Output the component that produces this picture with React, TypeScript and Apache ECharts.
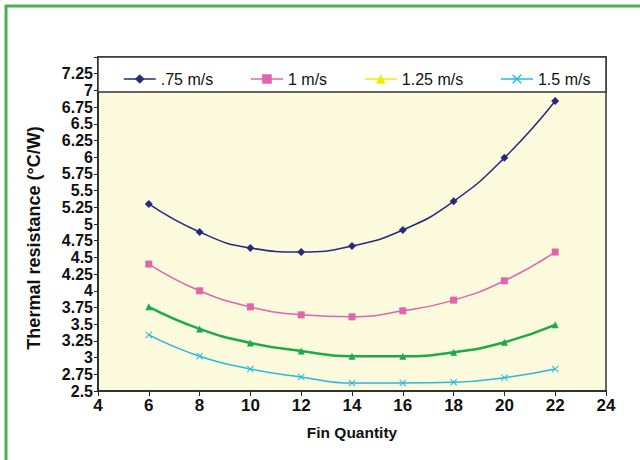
import React, { useEffect, useRef } from "react";
import * as echarts from "echarts";

const finQuantity = [6, 8, 10, 12, 14, 16, 18, 20, 22];
const seriesNames = [".75 m/s", "1 m/s", "1.25 m/s", "1.5 m/s"];
const v075 = [5.3, 4.88, 4.64, 4.58, 4.67, 4.91, 5.34, 5.99, 6.84];
const v100 = [4.4, 4.0, 3.76, 3.64, 3.61, 3.7, 3.86, 4.15, 4.58];
const v125 = [3.76, 3.43, 3.22, 3.1, 3.02, 3.02, 3.08, 3.23, 3.49];
const v150 = [3.34, 3.02, 2.83, 2.71, 2.62, 2.62, 2.63, 2.7, 2.83];
const yTickLabels = ["2.5", "2.75", "3", "3.25", "3.5", "3.75", "4", "4.25", "4.5", "4.75", "5", "5.25", "5.5", "5.75", "6", "6.25", "6.5", "6.75", "7", "7.25"];

const COLORS = ["#262A7E", "#E065AC", "#1DA84A", "#27B8DC"];
const LEGEND_COLORS = ["#262A7E", "#E065AC", "#F2EC00", "#27B8DC"];
const CROSS = "path://M0,1L1,0L5,4L9,0L10,1L6,5L10,9L9,10L5,6L1,10L0,9L4,5Z";
const SYMBOLS = ["diamond", "rect", "triangle", CROSS];
const WIDTHS = [1.5, 1.5, 2.5, 1.5];

export default function App() {
  const ref = useRef<HTMLDivElement>(null);
  useEffect(() => {
    if (!ref.current) return;
    const chart = echarts.init(ref.current, null, { renderer: "svg" });
    const values = [v075, v100, v125, v150];
    const font = "'Liberation Sans', Arial, sans-serif";
    chart.setOption({
      animation: false,
      backgroundColor: "#ffffff",
      textStyle: { fontFamily: font },
      grid: {
        left: 98,
        right: 34,
        top: 57,
        bottom: 69,
        show: true,
        backgroundColor: "#FCFADC",
        borderColor: "#333333",
        borderWidth: 1.5,
      },
      legend: {
        data: seriesNames.map((n, i) => ({
          name: n,
          itemStyle: { color: LEGEND_COLORS[i] },
          lineStyle: { color: LEGEND_COLORS[i], width: 1.5 },
        })),
        left: 118,
        top: 66,
        itemWidth: 32,
        itemHeight: 12,
        itemGap: 37,
        z: 20,
        textStyle: { fontSize: 16, color: "#111", fontFamily: font },
      },
      xAxis: {
        type: "value",
        min: 4,
        max: 24,
        interval: 2,
        name: "Fin Quantity",
        nameLocation: "middle",
        nameGap: 33,
        nameTextStyle: { fontSize: 15.5, fontWeight: "bold", color: "#111", fontFamily: font },
        axisLine: { show: true, onZero: false, lineStyle: { color: "#222", width: 1.5 } },
        axisTick: { show: true, length: 5, lineStyle: { color: "#222" } },
        axisLabel: { fontSize: 17, fontWeight: "bold", color: "#111", margin: 6 },
        splitLine: { show: false },
      },
      yAxis: {
        type: "value",
        min: 2.5,
        max: 7.5,
        interval: 0.25,
        axisLine: { show: true, lineStyle: { color: "#222", width: 1.5 } },
        axisTick: { show: true, length: 4, lineStyle: { color: "#222" } },
        axisLabel: {
          fontSize: 16,
          fontWeight: "bold",
          color: "#111",
          margin: 5,
          formatter: (v: number) => {
            const s = yTickLabels.find((t) => Math.abs(parseFloat(t) - v) < 1e-6);
            return s ?? "";
          },
        },
        splitLine: { show: false },
      },
      graphic: [
        {
          type: "rect",
          z: 10,
          shape: { x: 98, y: 57, width: 508, height: 35 },
          style: { fill: "#ffffff", stroke: "#333333", lineWidth: 1.5 },
        },
        {
          type: "text",
          z: 10,
          x: 34,
          y: 238,
          rotation: Math.PI / 2,
          style: {
            text: "Thermal resistance (°C/W)",
            fontSize: 18,
            fontWeight: "bold",
            fill: "#111",
            fontFamily: font,
            textAlign: "center",
            textVerticalAlign: "middle",
          },
        },
        {
          type: "line",
          z: 10,
          shape: { x1: 6, y1: 5, x2: 6, y2: 460 },
          style: { stroke: "#4CB050", lineWidth: 3 },
        },
        {
          type: "line",
          z: 10,
          shape: { x1: 5, y1: 6, x2: 640, y2: 6 },
          style: { stroke: "#4CB050", lineWidth: 3 },
        },
      ],
      series: seriesNames.map((n, i) => ({
        name: n,
        type: "line",
        smooth: true,
        data: finQuantity.map((x, j) => [x, values[i][j]]),
        symbol: SYMBOLS[i],
        symbolSize: i === 0 ? 8 : 7,
        itemStyle: { color: COLORS[i] },
        lineStyle: { color: COLORS[i], width: WIDTHS[i] },
        z: 3,
      })),
    });
    return () => chart.dispose();
  }, []);
  return (
    <div
      ref={ref}
      style={{ position: "fixed", left: 0, top: 0, width: 640, height: 460 }}
    />
  );
}
